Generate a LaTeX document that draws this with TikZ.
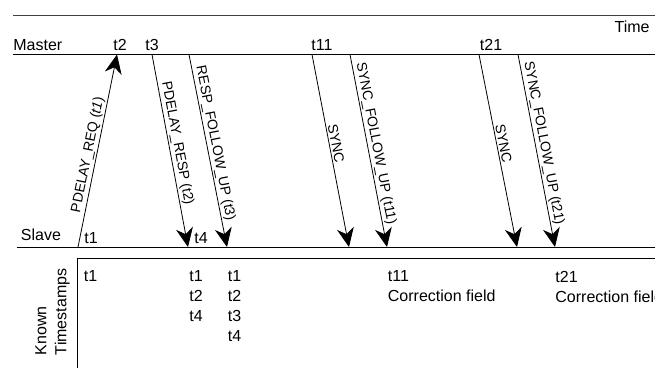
\documentclass[tikz,border=0pt]{standalone}
\usepackage{fontspec}
\setmainfont{Liberation Sans}
\usetikzlibrary{arrows.meta}
\begin{document}
\begin{tikzpicture}[x=1pt,y=-1pt,line width=.8pt,
                    lab/.style={anchor=base west,inner sep=0pt,font=\fontsize{16}{20}\selectfont},
                    col/.style={anchor=north west,inner sep=0pt,align=left,font=\fontsize{16}{20}\selectfont},
                    msg/.style={-{Stealth[length=19pt,width=17pt,inset=6pt]}},
                    lbl/.style={pos=.47,sloped,above,inner sep=1.5pt,font=\fontsize{14}{16}\selectfont}]
                     \useasboundingbox (0,0) rectangle (655,368);
                     % time axis and the two clocks
                     \coordinate (top0) at (13,15);   \coordinate (top1) at (655,15);
                     \coordinate (mas0) at (13,54.5); \coordinate (mas1) at (655,54.5);
                     \coordinate (sla0) at (17,247);  \coordinate (sla1) at (655,247);
                     \draw[black!75] (top0)--(top1);
                     \draw (mas0)--(mas1);
                     \draw (sla0)--(sla1);
                     \node[lab,anchor=base east] (time) at (650,32) {Time};
                     \node[lab] (master) at (13,50.5)  {Master};
                     \node[lab] (slave)  at (20.5,240.5) {Slave};
                     \node[lab] (tt2)  at (113,50.5)   {t2};
                     \node[lab] (tt3)  at (145,50.5)   {t3};
                     \node[lab] (tt11) at (311,50.5)   {t11};
                     \node[lab] (tt21) at (479.5,50.5) {t21};
                     \node[lab] (tt1)  at (84,243.5)   {t1};
                     \node[lab] (tt4)  at (194,243.5)  {t4};
                     % message ends
                     \coordinate (m2) at (117,54.5);  \coordinate (s1) at (78,247);
                     \coordinate (m3) at (152,54.5);  \coordinate (s4) at (188,247);
                     \coordinate (m3f) at (189,54.5); \coordinate (s4f) at (227,247);
                     \coordinate (m11) at (312,54.5); \coordinate (s11) at (349,247);
                     \coordinate (m11f) at (350,54.5);\coordinate (s11f) at (387,247);
                     \coordinate (m21) at (479,54.5); \coordinate (s21) at (517,247);
                     \coordinate (m21f) at (518,54.5);\coordinate (s21f) at (555,247);
                     \draw[msg] (s1)--(m2)     node[lbl]{PDELAY\_REQ (\textit{t1})};
                     \draw[msg] (m3)--(s4)     node[lbl]{PDELAY\_RESP (t2)};
                     \draw[msg] (m3f)--(s4f)   node[lbl]{RESP\_FOLLOW\_UP (t3)};
                     \draw[msg] (m11)--(s11)   node[lbl]{SYNC};
                     \draw[msg] (m11f)--(s11f) node[lbl]{SYNC\_FOLLOW\_UP (t11)};
                     \draw[msg] (m21)--(s21)   node[lbl]{SYNC};
                     \draw[msg] (m21f)--(s21f) node[lbl]{SYNC\_FOLLOW\_UP (t21)};
                     % known timestamps table
                     \coordinate (box0) at (655,258); \coordinate (box1) at (77,258); \coordinate (box2) at (77,368);
                     \draw (box0)--(box1)--(box2);
                     \node[lab,anchor=west,rotate=90,align=left] (known) at (52.5,355.5) {Known\\Timestamps};
                     \node[col] (k1)  at (83.5,270.5) {t1};
                     \node[col] (k4)  at (189,270.5)  {t1\\t2\\t4};
                     \node[col] (k4f) at (227.5,270.5){t1\\t2\\t3\\t4};
                     \node[col] (k11) at (387.5,270.5){t11\\Correction field};
                     \node[col] (k21) at (555,270.5)  {t21\\Correction field};
                 \end{tikzpicture}
\end{document}
